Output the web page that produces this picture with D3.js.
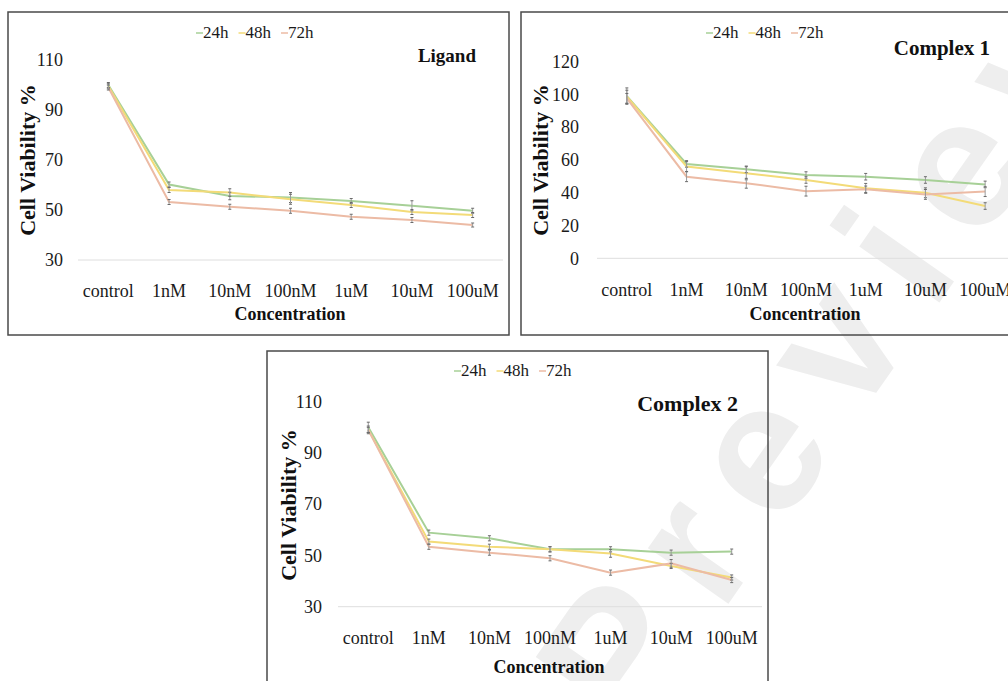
<!DOCTYPE html>
<html><head><meta charset="utf-8">
<script src="https://cdn.jsdelivr.net/npm/d3@7"></script>
<style>
html,body{margin:0;padding:0;background:#fff;}
svg{display:block;}
text{font-family:"Liberation Serif","Times New Roman",serif;}
</style></head>
<body>
<svg id="c" width="1008" height="681"></svg>
<script>
// ---- data ----
const categories = ["control","1nM","10nM","100nM","1uM","10uM","100uM"];
const seriesNames = ["24h","48h","72h"];

const ligand24 = [100, 60.2, 55.6, 55.0, 53.6, 51.7, 49.7];
const ligand48 = [99.5, 58.0, 57.0, 54.3, 52.0, 49.2, 48.0];
const ligand72 = [99.0, 53.2, 51.3, 49.7, 47.3, 46.0, 44.0];
const ligandErr24 = [1, 1, 1.5, 2, 1, 2, 1];
const ligandErr48 = [1, 1, 1.5, 2, 1, 1, 1];
const ligandErr72 = [1, 1, 1, 1, 1, 1, 0.8];

const c1_24 = [99.0, 57.6, 54.3, 50.8, 49.8, 47.8, 45.1];
const c1_48 = [98.6, 56.0, 51.9, 47.8, 42.7, 40.0, 31.9];
const c1_72 = [97.6, 49.8, 45.8, 41.0, 42.1, 39.0, 40.7];
const c1Err24 = [5, 2, 2, 2, 2, 2, 2];
const c1Err48 = [4, 3, 4, 2, 3, 3, 2];
const c1Err72 = [3, 3, 3, 3, 2, 3, 3];

const c2_24 = [100, 58.9, 56.7, 52.4, 52.4, 51.1, 51.5];
const c2_48 = [99.0, 55.4, 53.4, 52.4, 50.8, 45.9, 41.4];
const c2_72 = [99.0, 53.4, 51.1, 48.9, 43.3, 46.9, 40.4];
const c2Err24 = [2, 1, 1, 1, 1, 1, 1];
const c2Err48 = [1.5, 1, 1, 1, 1.5, 1, 1];
const c2Err72 = [1, 1, 1, 1, 1, 1.5, 1];

const ligandTicks = [30, 50, 70, 90, 110];
const c1Ticks = [0, 20, 40, 60, 80, 100, 120];
const c2Ticks = [30, 50, 70, 90, 110];

const panelTitles = ["Ligand", "Complex 1", "Complex 2"];
const watermarkText = "Preview";

// ---- styles ----
const colors = ["#a7d097", "#f3db78", "#ecbba5"];

const svg = d3.select("#c");

// watermark (behind)
svg.append("text")
  .attr("transform", "translate(633,740) rotate(-55)")
  .attr("font-size", 185)
  .attr("font-weight", "bold")
  .attr("letter-spacing", 30)
  .attr("fill", "#eeeeee")
  .style("font-family", "'Liberation Sans', Arial, sans-serif")
  .text(watermarkText);

const panels = [
  {title: panelTitles[0], data: [ligand24, ligand48, ligand72], err: [ligandErr24, ligandErr48, ligandErr72],
   ticks: ligandTicks, domain: [30, 110],
   box: [8, 12, 501, 323], x: [78, 503], y: [260, 60],
   tickRight: 63, ytitleX: 28, ytitleY: 160,
   legendX: 196, legendY: 38, titleRight: 476, titleY: 62, titleSize: 19,
   catY: 298, concX: 290, concY: 320},
  {title: panelTitles[1], data: [c1_24, c1_48, c1_72], err: [c1Err24, c1Err48, c1Err72],
   ticks: c1Ticks, domain: [0, 120],
   box: [521, 12, 520, 323], x: [597, 1015], y: [258.3, 61.7],
   tickRight: 579, ytitleX: 541, ytitleY: 160,
   legendX: 706, legendY: 38, titleRight: 990, titleY: 55, titleSize: 21,
   catY: 297, concX: 805, concY: 320},
  {title: panelTitles[2], data: [c2_24, c2_48, c2_72], err: [c2Err24, c2Err48, c2Err72],
   ticks: c2Ticks, domain: [30, 110],
   box: [267, 351, 501, 360], x: [338, 762], y: [606.7, 401.7],
   tickRight: 322, ytitleX: 289, ytitleY: 505,
   legendX: 454, legendY: 376, titleRight: 738, titleY: 411, titleSize: 22,
   catY: 645, concX: 549, concY: 673}
];

panels.forEach(p => {
  const g = svg.append("g");
  g.append("rect").attr("x", p.box[0]).attr("y", p.box[1]).attr("width", p.box[2]).attr("height", p.box[3])
    .attr("fill", "none").attr("stroke", "#4a4a4a").attr("stroke-width", 1.5);

  const x = d3.scaleBand().domain(categories).range(p.x);
  const y = d3.scaleLinear().domain(p.domain).range(p.y);
  const cx = c => x(c) + x.bandwidth() / 2;

  // baseline gridline
  g.append("line").attr("x1", p.x[0]).attr("x2", Math.min(p.x[1], 1008)).attr("y1", y(p.domain[0])).attr("y2", y(p.domain[0]))
    .attr("stroke", "#dedede").attr("stroke-width", 1);

  // y ticks
  const yAxis = d3.axisLeft(y).tickValues(p.ticks).tickSize(0).tickPadding(0);
  const ya = g.append("g").attr("transform", `translate(${p.tickRight},0)`).call(yAxis);
  ya.select(".domain").remove();
  ya.selectAll("text").attr("font-size", 18).attr("fill", "#1a1a1a")
    .style("font-family", "'Liberation Serif', serif");

  // x labels
  const xAxis = d3.axisBottom(x).tickSize(0).tickPadding(0);
  const xa = g.append("g").attr("transform", `translate(0,${p.catY - 14})`).call(xAxis);
  xa.select(".domain").remove();
  xa.selectAll("text").attr("font-size", 18).attr("fill", "#1a1a1a").attr("dy", "0.71em")
    .style("font-family", "'Liberation Serif', serif");

  // lines
  const line = d3.line().x((d, i) => cx(categories[i])).y(d => y(d));
  p.data.forEach((s, k) => {
    g.append("path").datum(s).attr("d", line).attr("fill", "none")
      .attr("stroke", colors[k]).attr("stroke-width", 2);
  });
  // error bars
  p.data.forEach((s, k) => {
    s.forEach((v, i) => {
      const e = p.err[k][i];
      const xx = cx(categories[i]);
      g.append("line").attr("x1", xx).attr("x2", xx).attr("y1", y(v - e)).attr("y2", y(v + e))
        .attr("stroke", "#9a9a9a").attr("stroke-width", 1);
      [v - e, v + e].forEach(t => g.append("line").attr("x1", xx - 1.5).attr("x2", xx + 1.5)
        .attr("y1", y(t)).attr("y2", y(t)).attr("stroke", "#6a6a6a").attr("stroke-width", 1));
    });
  });

  // legend
  let lx = p.legendX;
  seriesNames.forEach((n, k) => {
    g.append("line").attr("x1", lx).attr("x2", lx + 7).attr("y1", p.legendY - 5).attr("y2", p.legendY - 5)
      .attr("stroke", colors[k]).attr("stroke-width", 1.5);
    const t = g.append("text").attr("x", lx + 7).attr("y", p.legendY).attr("font-size", 17).attr("fill", "#1a1a1a").text(n);
    lx += 7 + t.node().getComputedTextLength() + 10;
  });

  // title
  g.append("text").attr("x", p.titleRight).attr("y", p.titleY).attr("text-anchor", "end")
    .attr("font-size", p.titleSize).attr("font-weight", "bold").attr("fill", "#111").text(p.title);

  // axis titles
  g.append("text").attr("transform", `translate(${p.ytitleX + 7},${p.ytitleY}) rotate(-90)`)
    .attr("text-anchor", "middle").attr("font-size", 22).attr("font-weight", "bold").attr("fill", "#111")
    .text("Cell Viability %");
  g.append("text").attr("x", p.concX).attr("y", p.concY).attr("text-anchor", "middle")
    .attr("font-size", 18).attr("font-weight", "bold").attr("fill", "#111").text("Concentration");
});
</script>
</body></html>
